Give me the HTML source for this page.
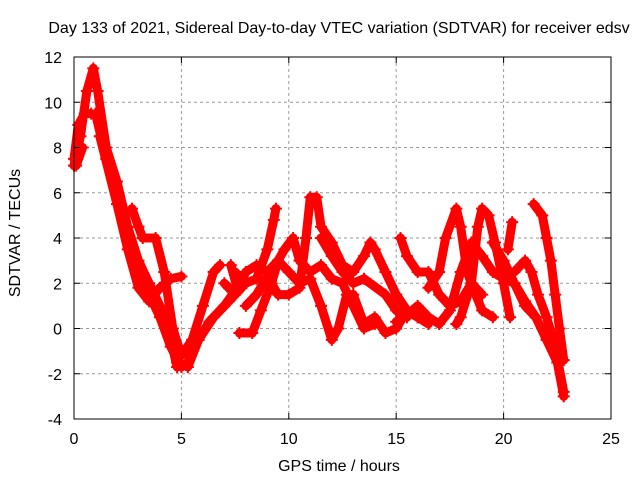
<!DOCTYPE html>
<html><head><meta charset="utf-8"><style>
body{margin:0;background:#fff}
svg{display:block;font-family:"Liberation Sans",sans-serif}
</style></head><body>
<svg id="chart" width="640" height="480">
<rect x="0" y="0" width="640" height="480" fill="#fff"/>
<g id="grid"></g>
<g id="series"></g>
<rect x="74" y="57" width="537" height="362" fill="none" stroke="#000" stroke-width="1"/>
<g id="ticks"></g>
<text x="339" y="33" font-size="16" text-anchor="middle">Day 133 of 2021, Sidereal Day-to-day VTEC variation (SDTVAR) for receiver edsv</text>
<text x="339" y="471" font-size="16" text-anchor="middle">GPS time / hours</text>
<text x="20" y="233" font-size="16" text-anchor="middle" transform="rotate(-90 20 233)">SDTVAR / TECUs</text>
</svg>
<script>
const xTicks=[0,5,10,15,20,25];
const yTicks=[-4,-2,0,2,4,6,8,10,12];
const track1=[[0,7.2],[0.3,8.5],[0.6,10.5],[0.9,11.5],[1.1,10.5],[1.5,8],[2,6.5],[2.5,4.5],[3,3],[3.5,2],[4,1],[4.5,-0.5],[4.8,-1.7]];
const track2=[[0,7.5],[0.2,9],[0.5,9.5],[0.8,9.5]];
const track3=[[0.1,7.2],[0.4,8]];
const track4=[[1,9.5],[1.5,7.5],[2,6],[2.5,4],[3,2.5],[3.5,1.5],[4,0.5],[4.5,-0.8],[5,-1.7],[5.3,-1.5],[5.8,-0.5],[6.5,0.5],[7.2,1.2],[7.8,1.8]];
const track5=[[1.2,8.5],[2,5.5],[2.5,3.5],[3,1.8],[3.5,1.2],[4,1.8],[4.5,2.2],[5,2.3]];
const track6=[[2.7,5.3],[3,4.5],[3.2,4],[3.8,4],[4.2,2.5],[4.6,0],[5,-1.2],[5.5,-0.5],[6,1],[6.5,2.5],[6.8,2.8]];
const track7=[[4.8,-1.5],[5.3,-1.7],[5.8,-0.5],[6.3,0.3],[7,1],[7.6,1.8],[7.3,2.8]];
const track8=[[7.7,-0.2],[8.3,-0.2],[8.7,0.8],[9.2,2],[9.5,3],[9.8,3.5],[10.2,4],[10.5,3],[11,2.5],[11.5,2.8],[12,2.2],[12.5,2],[13,1],[13.5,0],[14,0.2]];
const track9=[[7.5,2.5],[8,2],[8.5,2.2],[9,3.5],[9.3,4.8],[9.4,5.3]];
const track10=[[8,1],[8.5,1.5],[9,2.3],[9.5,1.5],[10,1.5],[10.5,1.8],[10.8,4],[11,5.8],[11.3,5.8],[11.5,4.5],[12,3.8],[12.5,2.8],[13,2.5],[13.5,3.2],[13.8,3.8],[14,3.5],[14.5,2.5],[15,1.5],[15.5,0.8],[16,0.5]];
const track11=[[7,2],[7.5,1.5],[8,2.5],[8.5,2.8],[9,2.5],[9.5,3],[10,2.5],[10.5,2],[11,2.2],[11.5,1],[12,-0.5],[12.3,0],[12.7,1.5],[13,1.5],[13.5,0.2],[14,0.5],[14.5,-0.2],[15,0],[15.5,0.8],[16,0.5],[16.5,0.2]];
const track12=[[11.5,4],[12,3.2],[12.5,2.5],[13,2],[13.5,2.2],[14.5,1.5],[15,0.8],[15.5,0.5]];
const track13=[[15.2,4],[15.5,3.2],[16,2.5],[16.5,2.5],[17,1.5],[17.5,1],[18,1.2],[18.5,2],[19,1.5]];
const track14=[[15,0.3],[15.5,0.6],[16,1],[16.5,0.5],[17,0.2],[17.5,0.8],[18,2.5],[18.5,3.8],[19,3.2],[19.5,2.5],[20,2.2],[20.5,2],[21,1],[21.5,0.5],[22,-0.5],[22.5,-1.5],[22.8,-3]];
const track15=[[16.5,1.8],[17,2.5],[17.3,4],[17.8,5.3],[18,4.5],[18.3,2.5],[18.7,1.5],[19,0.8],[19.5,0.5]];
const track16=[[17.8,0.2],[18,0.5],[18.5,2],[18.8,4.5],[19,5.3],[19.3,5],[19.6,3.8],[20,2],[20.3,0.5]];
const track17=[[19.5,3.8],[20,3],[20.5,2],[21,1.2],[21.5,0.5]];
const track18=[[20.2,3.5],[20.4,4.7]];
const track19=[[21.4,5.5],[21.8,5],[22,4],[22.2,3],[22.4,1.5],[22.6,0],[22.8,-1.4]];
const track20=[[20.5,2.5],[21,3],[21.3,2.5],[21.6,1.5],[22,0.5],[22.4,-0.8],[22.8,-2.8]];
const tracks=[track1,track2,track3,track4,track5,track6,track7,track8,track9,track10,track11,track12,track13,track14,track15,track16,track17,track18,track19,track20];

const NS='http://www.w3.org/2000/svg';
const X0=74,X1=611,Y0=419,Y1=57;
function xs(v){return X0+(v-0)/(25-0)*(X1-X0);}
function ys(v){return Y0-(v-(-4))/(12-(-4))*(Y0-Y1);}
function mk(tag,attrs,parent){const e=document.createElementNS(NS,tag);for(const k in attrs)e.setAttribute(k,attrs[k]);parent.appendChild(e);return e;}
const grid=document.getElementById('grid'),ticks=document.getElementById('ticks'),series=document.getElementById('series');
xTicks.forEach(t=>{
  const x=xs(t);
  if(t>0&&t<25){const g=mk('line',{x1:x,x2:x,y1:Y1,y2:Y0,stroke:'#999','stroke-dasharray':'3,3'},grid);
  
  }
  mk('line',{x1:x,x2:x,y1:Y0,y2:Y0-6,stroke:'#000'},ticks);
  mk('line',{x1:x,x2:x,y1:Y1,y2:Y1+6,stroke:'#000'},ticks);
  const l=mk('text',{x:x,y:444,'font-size':16,'text-anchor':'middle'},ticks);l.textContent=t;
  
  
});
yTicks.forEach(t=>{
  const y=ys(t);
  if(t>-4&&t<12){const g=mk('line',{x1:X0,x2:X1,y1:y,y2:y,stroke:'#999','stroke-dasharray':'3,3'},grid);
  
  }
  mk('line',{x1:X0,x2:X0+6,y1:y,y2:y,stroke:'#000'},ticks);
  mk('line',{x1:X1,x2:X1-6,y1:y,y2:y,stroke:'#000'},ticks);
  const l=mk('text',{x:62,y:y+6,'font-size':16,'text-anchor':'end'},ticks);l.textContent=t;
  
  
});
tracks.forEach((tr,i)=>{
  const p=mk('polyline',{points:tr.map(d=>xs(d[0])+','+ys(d[1])).join(' '),fill:'none',stroke:'#f00','stroke-width':9,'stroke-linejoin':'round','stroke-linecap':'round'},series);
  
  
  tr.forEach(d=>{
    const x=xs(d[0]),y=ys(d[1]);
    const m=mk('path',{d:`M${x-6},${y}H${x+6}M${x},${y-6}V${y+6}`,stroke:'#f00','stroke-width':2},series);
    
    
  });
});
</script>
</body></html>
